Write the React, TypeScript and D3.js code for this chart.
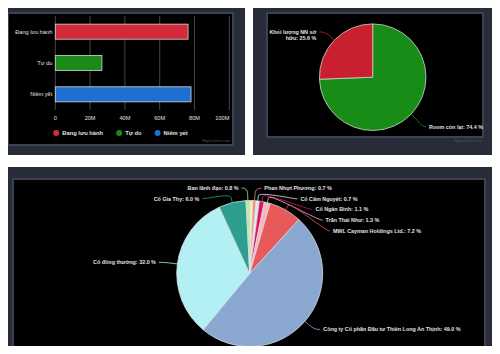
import { useEffect, useRef } from "react";
import * as d3 from "d3";

// bar chart: shares outstanding / free float / listed
const barCategories = ["Đang lưu hành", "Tự do", "Niêm yết"];
const barValues = [76.3e6, 26.8e6, 78.0e6];
const barColors = ["#d32a3a", "#1a8a1a", "#1f6fd3"];
const barTicks = [0, 20e6, 40e6, 60e6, 80e6, 100e6];

// foreign room pie
const roomNames = ["Room còn lại", "Khối lượng NN sở hữu"];
const roomValues = [74.4, 25.6];
const roomColors = ["#178c17", "#c8202f"];

// ownership pie (clockwise from 12 o'clock); first slice has no label in the picture
const ownerNames = [
  "",
  "Phan Nhựt Phương",
  "Cổ Cẩm Nguyệt",
  "Cổ Ngân Bình",
  "Trần Thái Như",
  "MWL Cayman Holdings Ltd.",
  "Công ty Cổ phần Đầu tư Thiên Long An Thịnh",
  "Cổ đông thường",
  "Cổ Gia Thy",
  "Ban lãnh đạo",
];
const ownerValues = [0.7, 0.7, 0.7, 1.1, 1.3, 7.2, 49.0, 32.0, 6.0, 0.8];
const ownerColors = [
  "#f3efc2", "#f0906e", "#d6ebf7", "#de1460", "#f2b8c0",
  "#e85a5a", "#8aa8d0", "#b2f0f4", "#2e9e8e", "#b8eea0",
];

const FONT = '"Liberation Sans", Arial, sans-serif';
const TEXT = "#e0e0e3";

type Sel = d3.Selection<SVGGElement, unknown, null, undefined>;

function panel(g: Sel, outer: number[], inner: number[]) {
  g.append("rect")
    .attr("x", outer[0]).attr("y", outer[1])
    .attr("width", outer[2]).attr("height", outer[3])
    .attr("fill", "#282c39");
  g.append("rect")
    .attr("x", inner[0]).attr("y", inner[1])
    .attr("width", inner[2]).attr("height", inner[3])
    .attr("fill", "#000")
    .attr("stroke", "#3c4153")
    .attr("stroke-width", 2);
}

function credits(g: Sel, x: number, y: number) {
  g.append("text")
    .attr("x", x).attr("y", y)
    .attr("text-anchor", "end")
    .attr("font-family", FONT)
    .attr("font-size", 4)
    .attr("fill", "#555")
    .text("Highcharts.com");
}

interface PieOpts {
  cx: number;
  cy: number;
  r: number;
  dist: number;
  pad: number;
  gap: number;
  fontSize: number;
  innerLeft: number;
  innerRight: number;
}

function drawPie(g: Sel, names: string[], values: number[], colors: string[], o: PieOpts) {
  const pie = d3.pie<number>().sort(null).value((d) => d);
  const arcs = pie(values);
  const arcGen = d3.arc<d3.PieArcDatum<number>>().innerRadius(0).outerRadius(o.r);

  g.append("g")
    .attr("transform", `translate(${o.cx},${o.cy})`)
    .selectAll("path")
    .data(arcs)
    .join("path")
    .attr("d", (d) => arcGen(d) ?? "")
    .attr("fill", (d) => colors[d.index])
    .attr("stroke", "#e6e6e6")
    .attr("stroke-width", 0.7)
    .attr("stroke-linejoin", "round");

  const R = o.r + o.dist;
  const items = arcs
    .filter((a) => names[a.index])
    .map((a) => {
      const mid = (a.startAngle + a.endAngle) / 2;
      return { a, mid, right: mid < Math.PI, y: o.cy - Math.cos(mid) * R, x: 0 };
    });

  // push crowded labels down on each side
  for (const side of [true, false]) {
    const list = items.filter((d) => d.right === side).sort((p, q) => p.y - q.y);
    let prev = -Infinity;
    list.forEach((d) => {
      d.y = Math.max(d.y, prev + o.gap);
      prev = d.y;
    });
  }
  items.forEach((d) => {
    const dy = d.y - o.cy;
    const dx = Math.sqrt(Math.max(0, R * R - dy * dy));
    d.x = o.cx + (d.right ? dx + o.pad : -dx - o.pad);
  });

  const lh = o.fontSize * 1.15;
  items.forEach((d) => {
    const label = `${names[d.a.index]}: ${values[d.a.index].toFixed(1)} %`;
    const text = g.append("text")
      .attr("font-family", FONT)
      .attr("font-size", o.fontSize)
      .attr("font-weight", "bold")
      .attr("fill", TEXT)
      .attr("text-anchor", d.right ? "start" : "end");

    // wrap words when the label would run out of the plot area
    const avail = d.right ? o.innerRight - d.x + 4 : d.x - o.innerLeft - 2;
    const words = label.split(" ");
    const lines: string[] = [];
    let cur = "";
    const probe = text.append("tspan");
    words.forEach((w) => {
      const next = cur ? cur + " " + w : w;
      probe.text(next);
      const len = (probe.node() as SVGTSpanElement).getComputedTextLength();
      if (len > avail && cur) {
        lines.push(cur);
        cur = w;
      } else {
        cur = next;
      }
    });
    lines.push(cur);
    probe.remove();

    const firstY = lines.length > 1 ? d.y + 1 + lh / 2 : d.y;
    lines.forEach((ln, i) => {
      text.append("tspan")
        .attr("x", d.x)
        .attr("y", firstY + i * lh)
        .attr("dy", "0.35em")
        .text(ln);
    });

    const t = [o.cx + Math.sin(d.mid) * o.r, o.cy - Math.cos(d.mid) * o.r];
    const b = [o.cx + Math.sin(d.mid) * (o.r + 5), o.cy - Math.cos(d.mid) * (o.r + 5)];
    const lx = d.x + (d.right ? -3 : 3);
    g.append("path")
      .attr(
        "d",
        `M${lx},${firstY} C${lx + (d.right ? -5 : 5)},${firstY} ${2 * b[0] - t[0]},${2 * b[1] - t[1]} ${b[0]},${b[1]} L${t[0]},${t[1]}`
      )
      .attr("fill", "none")
      .attr("stroke", colors[d.a.index])
      .attr("stroke-width", 0.8);
  });
}

function drawBars(g: Sel) {
  const plot = { left: 55.3, right: 229.3, top: 16, bottom: 110 };
  const x = d3.scaleLinear().domain([0, 100e6]).range([plot.left, plot.right]);
  const y = d3.scaleBand<string>()
    .domain(barCategories)
    .range([plot.top, plot.bottom])
    .paddingInner(0.52)
    .paddingOuter(0.26);

  g.append("g")
    .selectAll("line")
    .data(barTicks)
    .join("line")
    .attr("x1", (d) => x(d)).attr("x2", (d) => x(d))
    .attr("y1", plot.top).attr("y2", plot.bottom)
    .attr("stroke", "#58585c")
    .attr("stroke-width", 0.8);

  g.append("g")
    .selectAll("rect")
    .data(barCategories)
    .join("rect")
    .attr("x", x(0))
    .attr("y", (d) => y(d) ?? 0)
    .attr("width", (_, i) => x(barValues[i]) - x(0))
    .attr("height", y.bandwidth())
    .attr("fill", (_, i) => barColors[i])
    .attr("stroke", "#d8d8d8")
    .attr("stroke-width", 0.8);

  g.append("g")
    .selectAll("text")
    .data(barCategories)
    .join("text")
    .attr("x", plot.left - 3)
    .attr("y", (d) => (y(d) ?? 0) + y.bandwidth() / 2)
    .attr("dy", "0.35em")
    .attr("text-anchor", "end")
    .attr("font-family", FONT)
    .attr("font-size", 5.6)
    .attr("fill", TEXT)
    .text((d) => d);

  g.append("g")
    .selectAll("text")
    .data(barTicks)
    .join("text")
    .attr("x", (d) => x(d))
    .attr("y", 118)
    .attr("dy", "0.35em")
    .attr("text-anchor", (_, i) => (i === barTicks.length - 1 ? "end" : "middle"))
    .attr("font-family", FONT)
    .attr("font-size", 5.6)
    .attr("fill", TEXT)
    .text((d) => (d === 0 ? "0" : `${d / 1e6}M`));

  // legend, centred under the plot
  const legend = g.append("g");
  let cursor = 0;
  barCategories.forEach((c, i) => {
    const item = legend.append("g").attr("transform", `translate(${cursor},0)`);
    item.append("circle").attr("cx", 3).attr("cy", 0).attr("r", 3).attr("fill", barColors[i]);
    const t = item.append("text")
      .attr("x", 9)
      .attr("dy", "0.35em")
      .attr("font-family", FONT)
      .attr("font-size", 5.8)
      .attr("font-weight", "bold")
      .attr("fill", TEXT)
      .text(c);
    cursor += 9 + (t.node() as SVGTextElement).getComputedTextLength() + 13;
  });
  const total = cursor - 13;
  legend.attr("transform", `translate(${120.5 - total / 2},133)`);
}

export default function App() {
  const ref = useRef<SVGSVGElement>(null);

  useEffect(() => {
    if (!ref.current) return;
    const svg = d3.select(ref.current);
    svg.selectAll("*").remove();
    const root = svg.append("g") as unknown as Sel;

    panel(root, [0, 2, 245, 153], [8, 13, 225, 132]);
    panel(root, [253, 2, 245, 153], [267, 13, 216, 124]);
    panel(root, [0, 167, 493, 187], [13, 179, 472, 173]);

    drawBars(root);
    credits(root, 230, 142);

    drawPie(root, roomNames, roomValues, roomColors, {
      cx: 372.7, cy: 77.2, r: 53.3, dist: 18, pad: 5, gap: 10,
      fontSize: 5.4, innerLeft: 267, innerRight: 483,
    });
    credits(root, 482, 142);

    drawPie(root, ownerNames, ownerValues, ownerColors, {
      cx: 249.7, cy: 273.5, r: 73, dist: 12.5, pad: 9, gap: 10.7,
      fontSize: 5.4, innerLeft: 13, innerRight: 485,
    });
  }, []);

  return (
    <div style={{ margin: -8, background: "#fff", width: 500, height: 354 }}>
      <svg ref={ref} width={500} height={354} style={{ display: "block" }} />
    </div>
  );
}
